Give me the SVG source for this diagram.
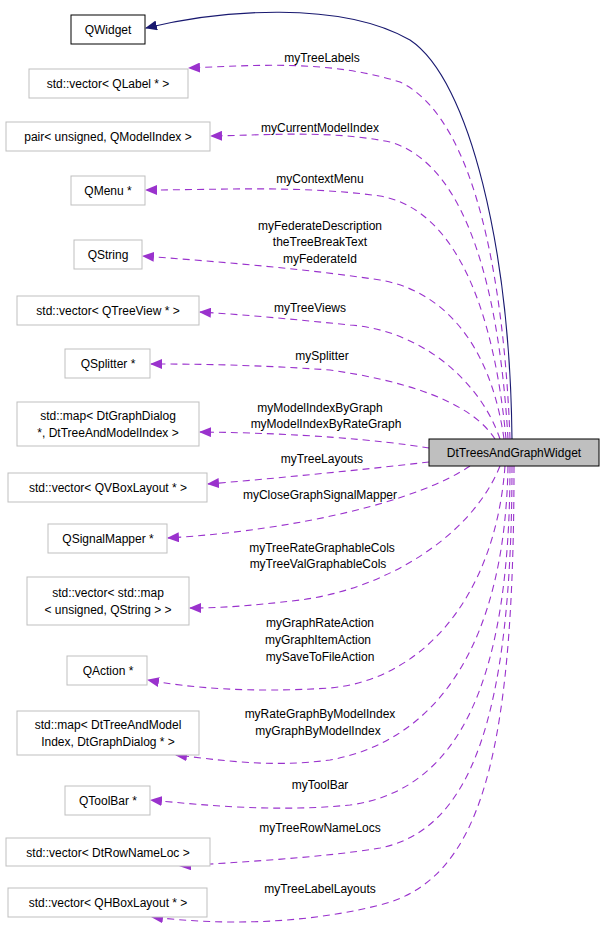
<svg xmlns="http://www.w3.org/2000/svg" width="603" height="942" viewBox="0 0 603 942">
<style>
text{font-family:"Liberation Sans",Arial,sans-serif;font-size:12px;fill:#000}
.n rect{fill:#fff;stroke:#bfbfbf;stroke-width:1}
.e{fill:none;stroke:#9a32cd;stroke-dasharray:7,5;stroke-width:1.1}
.l{text-anchor:middle}
</style>
<defs>
<marker id="a" markerWidth="12" markerHeight="10" refX="11" refY="5" orient="auto" markerUnits="userSpaceOnUse"><path d="M0,0L12,5L0,10z" fill="#9a32cd"/></marker>
<marker id="b" markerWidth="12" markerHeight="10" refX="11" refY="5" orient="auto" markerUnits="userSpaceOnUse"><path d="M0,0L12,5L0,10z" fill="#191970"/></marker>
</defs>
<rect width="603" height="942" fill="#fff"/>
<g id="edges">
<path d="M512,439C510,250 470,80 410,40 340,0 220,10 146,28" fill="none" stroke="#191970" stroke-width="1.1" marker-end="url(#b)"/>
<path class="e" marker-end="url(#a)" d="M510,439C505,300 480,120 400,82 330,60 260,65 189,68"/>
<path class="e" marker-end="url(#a)" d="M508,439C500,300 470,165 390,142 330,130 270,135 211,136"/>
<path class="e" marker-end="url(#a)" d="M506,439C495,320 460,210 380,196 300,185 220,190 146,190"/>
<path class="e" marker-end="url(#a)" d="M504,439C490,340 440,290 380,280 300,268 220,262 143,256"/>
<path class="e" marker-end="url(#a)" d="M500,439C480,380 420,330 350,325 300,320 250,315 200,312"/>
<path class="e" marker-end="url(#a)" d="M495,439C470,400 400,380 330,370 260,365 200,364 151,364"/>
<path class="e" marker-end="url(#a)" d="M429,448C380,440 300,433 200,432"/>
<path class="e" marker-end="url(#a)" d="M429,462C360,470 280,478 208,484"/>
<path class="e" marker-end="url(#a)" d="M470,466C420,500 300,530 168,538"/>
<path class="e" marker-end="url(#a)" d="M500,466C470,540 380,590 300,600 250,606 220,608 190,608"/>
<path class="e" marker-end="url(#a)" d="M505,466C495,600 420,680 330,688 250,693 190,688 148,680"/>
<path class="e" marker-end="url(#a)" d="M508,466C505,640 440,740 330,760 270,768 220,760 176,755"/>
<path class="e" marker-end="url(#a)" d="M510,466C510,680 460,790 350,805 280,812 210,806 151,800"/>
<path class="e" marker-end="url(#a)" d="M512,466C512,720 470,830 380,848 320,858 240,862 180,866"/>
<path class="e" marker-end="url(#a)" d="M514,466C514,760 480,880 380,905 300,925 220,925 152,917"/>
</g>
<g id="QWidget"><rect x="71" y="15" width="74" height="29" fill="#fff" stroke="#000"/><text x="108" y="34" class="l">QWidget</text></g>
<g id="n1" class="n"><rect x="29" y="69" width="159" height="29"/><text x="108" y="88" class="l">std::vector&lt; QLabel * &gt;</text></g>
<g id="n2" class="n"><rect x="6" y="122" width="204" height="29"/><text x="108" y="141" class="l">pair&lt; unsigned, QModelIndex &gt;</text></g>
<g id="n3" class="n"><rect x="71" y="176" width="74" height="29"/><text x="108" y="195" class="l">QMenu *</text></g>
<g id="n4" class="n"><rect x="74" y="240" width="68" height="29"/><text x="108" y="259" class="l">QString</text></g>
<g id="n5" class="n"><rect x="17" y="296" width="182" height="29"/><text x="108" y="315" class="l">std::vector&lt; QTreeView * &gt;</text></g>
<g id="n6" class="n"><rect x="65" y="349" width="85" height="29"/><text x="108" y="368" class="l">QSplitter *</text></g>
<g id="n7" class="n"><rect x="17" y="402" width="182" height="44"/><text x="108" y="420" class="l">std::map&lt; DtGraphDialog</text><text x="108" y="437" class="l">*, DtTreeAndModelIndex &gt;</text></g>
<g id="n8" class="n"><rect x="8" y="473" width="199" height="29"/><text x="108" y="492" class="l">std::vector&lt; QVBoxLayout * &gt;</text></g>
<g id="n9" class="n"><rect x="48" y="524" width="119" height="29"/><text x="108" y="543" class="l">QSignalMapper *</text></g>
<g id="n10" class="n"><rect x="27" y="577" width="162" height="48"/><text x="108" y="597" class="l">std::vector&lt; std::map</text><text x="108" y="614" class="l">&lt; unsigned, QString &gt; &gt;</text></g>
<g id="n11" class="n"><rect x="67" y="656" width="80" height="29"/><text x="108" y="675" class="l">QAction *</text></g>
<g id="n12" class="n"><rect x="17" y="711" width="182" height="44"/><text x="108" y="729" class="l">std::map&lt; DtTreeAndModel</text><text x="108" y="746" class="l">Index, DtGraphDialog * &gt;</text></g>
<g id="n13" class="n"><rect x="65" y="786" width="85" height="29"/><text x="108" y="805" class="l">QToolBar *</text></g>
<g id="n14" class="n"><rect x="6" y="838" width="204" height="28"/><text x="108" y="857" class="l">std::vector&lt; DtRowNameLoc &gt;</text></g>
<g id="n15" class="n"><rect x="8" y="888" width="199" height="29"/><text x="108" y="907" class="l">std::vector&lt; QHBoxLayout * &gt;</text></g>
<g id="main"><rect x="429" y="439" width="170" height="27" fill="#bfbfbf" stroke="#000"/><text x="514" y="457" class="l">DtTreesAndGraphWidget</text></g>
<g id="labels">
<text x="322" y="62" class="l">myTreeLabels</text>
<text x="320" y="132" class="l">myCurrentModelIndex</text>
<text x="320" y="183" class="l">myContextMenu</text>
<text x="320" y="230" class="l">myFederateDescription</text>
<text x="320" y="246" class="l">theTreeBreakText</text>
<text x="320" y="263" class="l">myFederateId</text>
<text x="310" y="312" class="l">myTreeViews</text>
<text x="322" y="360" class="l">mySplitter</text>
<text x="320" y="412" class="l">myModelIndexByGraph</text>
<text x="326" y="428" class="l">myModelIndexByRateGraph</text>
<text x="322" y="463" class="l">myTreeLayouts</text>
<text x="320" y="499" class="l">myCloseGraphSignalMapper</text>
<text x="322" y="552" class="l">myTreeRateGraphableCols</text>
<text x="318" y="568" class="l">myTreeValGraphableCols</text>
<text x="320" y="627" class="l">myGraphRateAction</text>
<text x="318" y="644" class="l">myGraphItemAction</text>
<text x="320" y="661" class="l">mySaveToFileAction</text>
<text x="320" y="718" class="l">myRateGraphByModelIndex</text>
<text x="318" y="735" class="l">myGraphByModelIndex</text>
<text x="320" y="789" class="l">myToolBar</text>
<text x="320" y="832" class="l">myTreeRowNameLocs</text>
<text x="320" y="893" class="l">myTreeLabelLayouts</text>
</g>
</svg>
